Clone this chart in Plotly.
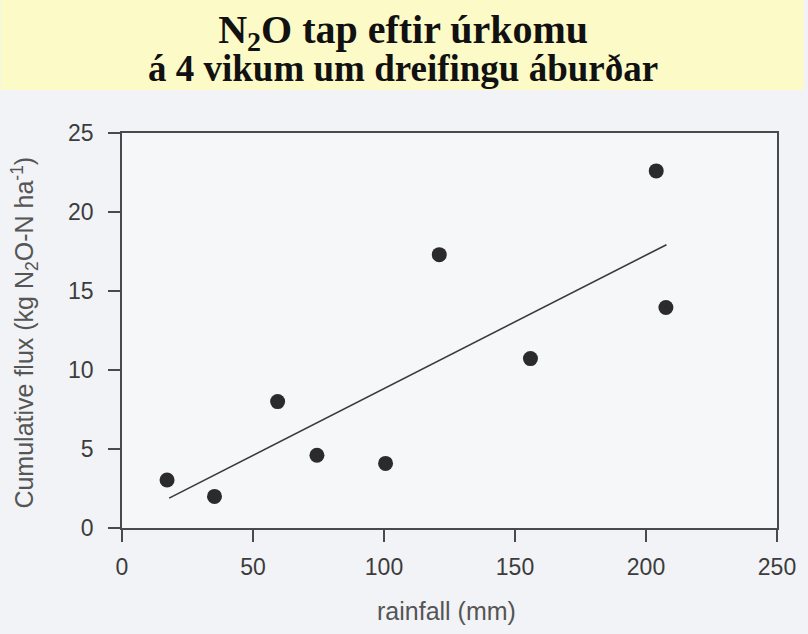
import plotly.graph_objects as go

# Data
rainfall_mm = [17.2, 35.3, 59.4, 74.4, 100.6, 121.1, 155.9, 203.9, 207.6]
cumulative_flux = [3.04, 2.0, 8.0, 4.6, 4.09, 17.3, 10.72, 22.6, 13.96]
fit_x = [18.0, 207.8]
fit_y = [1.89, 17.93]
x_ticks = [0, 50, 100, 150, 200, 250]
y_ticks = [0, 5, 10, 15, 20, 25]

W, H = 808, 634
L, R, T, B = 122, 27, 133, 106
plot_w = W - L - R
plot_h = H - T - B

def px_x(px):
    return (px - L) / plot_w

def px_y(py):
    return (H - B - py) / plot_h

fig = go.Figure()
fig.add_trace(go.Scatter(x=fit_x, y=fit_y, mode="lines",
                         line=dict(color="#3a3a3a", width=1.6),
                         hoverinfo="skip", showlegend=False))
fig.add_trace(go.Scatter(x=rainfall_mm, y=cumulative_flux, mode="markers",
                         marker=dict(color="#2b2b2e", size=15, line=dict(width=0)),
                         showlegend=False))

axis_common = dict(showgrid=False, zeroline=False, showline=True, mirror=True,
                   linecolor="#4a4a4a", linewidth=1.6, ticks="outside",
                   ticklen=12, tickwidth=1.5, tickcolor="#4a4a4a",
                   tickfont=dict(family="Liberation Sans, Arial, sans-serif",
                                 size=23, color="#3c3c3c"))

fig.update_xaxes(range=[0, 250], tickvals=x_ticks, ticklabelstandoff=6, **axis_common)
fig.update_yaxes(range=[0, 25], tickvals=y_ticks, ticklabelstandoff=10, **axis_common)

shapes = [
    # yellow title banner
    dict(type="rect", xref="paper", yref="paper", layer="below",
         x0=px_x(0), x1=px_x(W), y0=px_y(90), y1=px_y(0),
         fillcolor="#fcfac6", line=dict(width=0)),
]

title_text = ('<b><span style="font-size:40px">N<sub>2</sub>O tap eftir úrkomu</span>'
              '<br><span style="font-size:37px">á 4 vikum um dreifingu áburðar</span></b>')

annotations = [
    dict(text=title_text, xref="paper", yref="paper",
         x=px_x(405), y=px_y(48), xanchor="center", yanchor="middle", showarrow=False,
         align="center",
         font=dict(family="Liberation Serif, Times New Roman, serif", size=29, color="#111111")),
    dict(text="Cumulative flux (kg N<sub>2</sub>O-N ha<sup>-1</sup>)", xref="paper", yref="paper",
         x=px_x(24), y=px_y(333), xanchor="center", yanchor="middle", showarrow=False,
         textangle=-90,
         font=dict(family="Liberation Sans, Arial, sans-serif", size=25, color="#555555")),
    dict(text="rainfall (mm)", xref="paper", yref="paper",
         x=px_x(448), y=px_y(611), xanchor="center", yanchor="middle", showarrow=False,
         font=dict(family="Liberation Sans, Arial, sans-serif", size=25, color="#555555")),
]

fig.update_layout(width=W, height=H,
                  margin=dict(l=L, r=R, t=T, b=B, pad=0),
                  paper_bgcolor="#f2f3f6", plot_bgcolor="#f6f7f9",
                  shapes=shapes, annotations=annotations)

fig.write_html("out.html", config={"displayModeBar": False},
               post_script="document.body.style.margin='0';")
